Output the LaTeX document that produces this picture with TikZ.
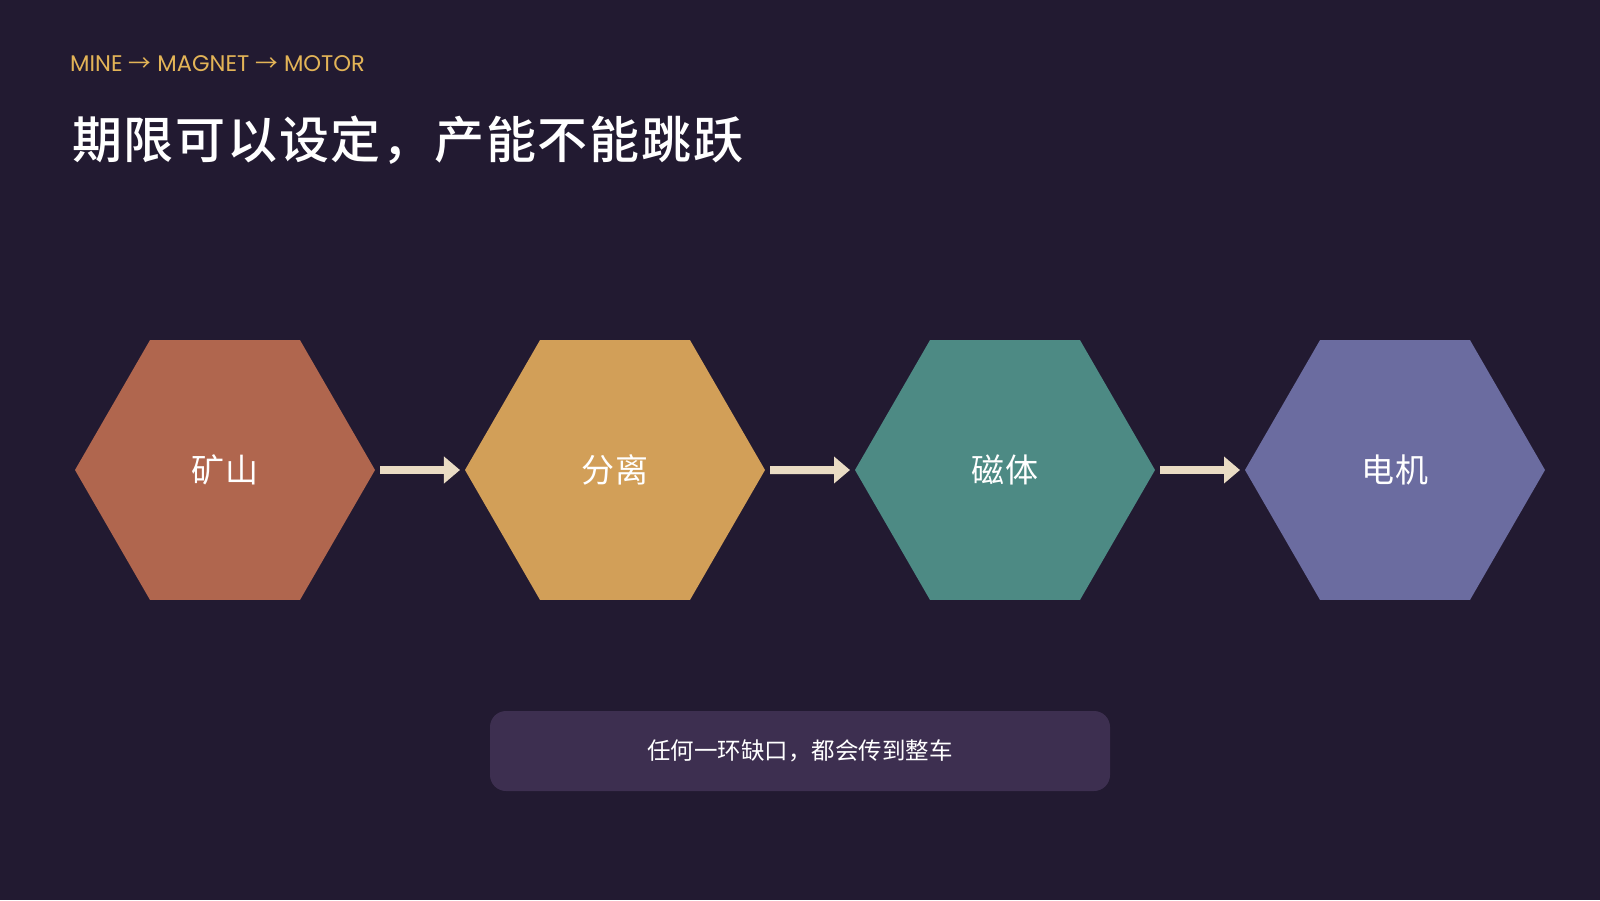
\documentclass[tikz,border=0pt]{standalone}
\usepackage{fontspec}
\setmainfont{Noto Sans CJK SC}
\newfontfamily\cjk{Noto Sans CJK SC}
\newfontfamily\cjkwide[LetterSpace=5]{Noto Sans CJK SC}
\newfontfamily\cjktitle[LetterSpace=3.5]{Noto Sans CJK SC Medium}
\newfontfamily\geo{Poppins}
\usetikzlibrary{shapes.geometric,arrows.meta}
\definecolor{bgc}{HTML}{221A31}
\definecolor{hexA}{HTML}{B0664E}
\definecolor{hexB}{HTML}{D29F58}
\definecolor{hexC}{HTML}{4D8A84}
\definecolor{hexD}{HTML}{6B6CA0}
\definecolor{arrc}{HTML}{EADCC4}
\definecolor{boxc}{HTML}{3D2F50}
\definecolor{gold}{HTML}{E3B457}
\tikzset{
  hexbox/.style={regular polygon, regular polygon sides=6, minimum size=300pt,
    inner sep=0pt, outer sep=0pt, text=white, font=\cjkwide\fontsize{33}{36}\selectfont},
  flow/.style={draw=arrc, line width=8pt, -{Triangle[length=16pt,width=26pt]}},
  notebox/.style={fill=boxc, rounded corners=16pt, minimum width=620pt, minimum height=80pt,
    inner sep=0pt, text=white, font=\cjk\fontsize{23.5}{26}\selectfont}
}
\begin{document}
\begin{tikzpicture}[x=1pt,y=-1pt]
\fill[bgc] (0,0) rectangle (1600,900);
\useasboundingbox (0,0) rectangle (1600,900);
\node[anchor=west, text=gold, font=\geo\fontsize{22.6}{24}\selectfont, inner sep=0pt] (kicker) at (70,64) {MINE {\cjk →} MAGNET {\cjk →} MOTOR};
\node[anchor=west, text=white, font=\cjktitle\fontsize{50}{56}\selectfont, inner sep=0pt] (title) at (72,140) {期限可以设定，产能不能跳跃};
\node[hexbox, fill=hexA] (h1) at (225,470) {矿山};
\node[hexbox, fill=hexB] (h2) at (615,470) {分离};
\node[hexbox, fill=hexC] (h3) at (1005,470) {磁体};
\node[hexbox, fill=hexD] (h4) at (1395,470) {电机};
\draw[flow] ([xshift=5pt]h1.east) -- ([xshift=-5pt]h2.west);
\draw[flow] ([xshift=5pt]h2.east) -- ([xshift=-5pt]h3.west);
\draw[flow] ([xshift=5pt]h3.east) -- ([xshift=-5pt]h4.west);
\node[notebox] (note) at (800,751) {任何一环缺口，都会传到整车};
\end{tikzpicture}
\end{document}
